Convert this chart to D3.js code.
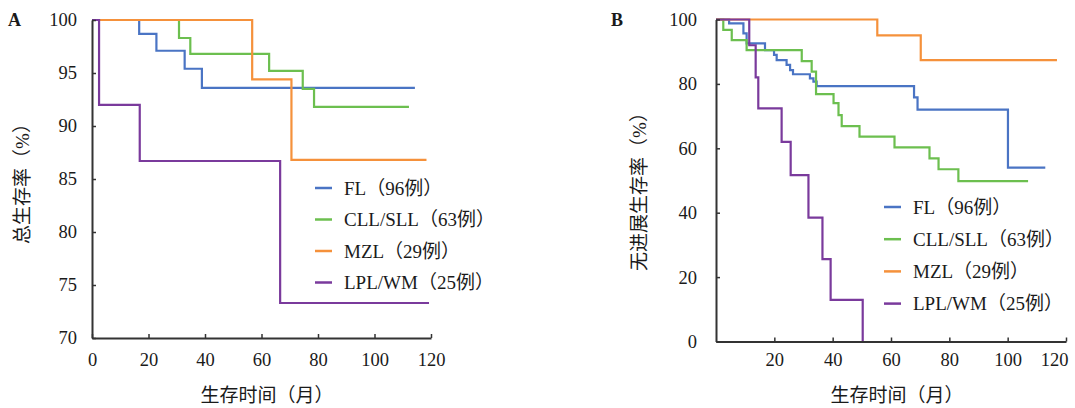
<!DOCTYPE html>
<html>
<head>
<meta charset="utf-8">
<script src="https://cdn.jsdelivr.net/npm/d3@7"></script>
<style>
  body { margin: 0; background: #fff; }
  text { font-family: "Liberation Serif", "Noto Sans CJK SC", serif; fill: #1a1a1a; }
</style>
</head>
<body>
<div id="chart"></div>
<script>
// group names / colours
var groups = ["FL（96例）", "CLL/SLL（63例）", "MZL（29例）", "LPL/WM（25例）"];
var colors = ["#4a74c4", "#6cbf4f", "#f5913b", "#7a3a9c"];

// panel A: overall survival (months, %)
var flA_t = [0, 16.7, 22.8, 32.8, 38.9, 114.3];
var flA_s = [100, 98.7, 97.1, 95.4, 93.6, 93.6];
var cllA_t = [0, 30.8, 34.8, 62.7, 74.6, 78.6, 112.2];
var cllA_s = [100, 98.3, 96.8, 95.2, 93.5, 91.8, 91.8];
var mzlA_t = [0, 56.7, 70.6, 118.4];
var mzlA_s = [100, 94.4, 86.8, 86.8];
var lplA_t = [0, 2.5, 16.9, 66.6, 119.3];
var lplA_s = [100, 92, 86.7, 73.3, 73.3];

// panel B: progression-free survival (months, %)
var flB_t = [0, 4.5, 9.4, 10.5, 16.8, 19.9, 20.8, 24.2, 25.4, 26.4, 32.2, 33.4, 34.5, 67.9, 69.1, 100.1, 112.9];
var flB_s = [100, 98.8, 95.7, 92.6, 90.5, 89, 87.4, 85.9, 84.3, 83, 81.7, 80.7, 79.3, 75.8, 72, 54, 54];
var cllB_t = [0, 2.5, 5.4, 10.5, 29.4, 32.8, 34.3, 40.3, 42, 43.1, 49.2, 61.2, 73.2, 76.3, 83.1, 107];
var cllB_s = [100, 96.8, 93.6, 90.5, 87.1, 83.8, 76.8, 74, 70.3, 66.9, 63.6, 60.3, 56.9, 53.5, 49.8, 49.8];
var mzlB_t = [0, 55.3, 70.2, 116.9];
var mzlB_s = [100, 95.1, 87.4, 87.4];
var lplB_t = [0, 11.4, 13.6, 14.5, 22.5, 25.6, 31.7, 36.5, 39.3, 50.3];
var lplB_s = [100, 92, 82, 72.4, 62, 51.7, 38.5, 25.6, 12.9, 0];

var xTicksA = [0, 20, 40, 60, 80, 100, 120];
var yTicksA = [70, 75, 80, 85, 90, 95, 100];
var xTicksB = [20, 40, 60, 80, 100, 120];
var yTicksB = [0, 20, 40, 60, 80, 100];

function zip(t, s) { return t.map(function(d, i) { return [d, s[i]]; }); }

var width = 1075, height = 408;
var svg = d3.select('#chart').append('svg')
  .attr('width', width)
  .attr('height', height);

function panel(opt) {
  var x = d3.scaleLinear().domain([0, 120]).range(opt.xr);
  var y = d3.scaleLinear().domain(opt.yd).range(opt.yr);
  var g = svg.append('g');

  var line = d3.line()
    .x(function(d) { return x(d[0]); })
    .y(function(d) { return y(d[1]); })
    .curve(d3.curveStepAfter);

  opt.series.forEach(function(s, i) {
    g.append('path')
      .attr('d', line(s))
      .attr('fill', 'none')
      .attr('stroke', colors[i])
      .attr('stroke-width', 2.2);
  });

  var xAxis = g.append('g')
    .attr('transform', 'translate(0,' + opt.yr[0] + ')')
    .call(d3.axisBottom(x).tickValues(opt.xt).tickSizeInner(-4).tickSizeOuter(0).tickPadding(opt.xpad));
  var yAxis = g.append('g')
    .attr('transform', 'translate(' + opt.xr[0] + ',0)')
    .call(d3.axisLeft(y).tickValues(opt.yt).tickSizeInner(-4).tickSizeOuter(0).tickPadding(opt.ypad));
  [xAxis, yAxis].forEach(function(a) {
    a.select('.domain').attr('stroke', '#333').attr('stroke-width', 2);
    a.selectAll('.tick line').attr('stroke', '#333').attr('stroke-width', 1.5);
    a.selectAll('.tick text').style('font-size', '18.5px').attr('fill', '#1a1a1a');
  });
  // last x label is pulled in so it fits at the right edge
  if (opt.lastEnd) {
    xAxis.selectAll('.tick text')
      .filter(function(d) { return d === 120; })
      .attr('text-anchor', 'end')
      .attr('x', 2);
  }

  // legend
  var legend = g.selectAll('.legend')
    .data(groups)
    .enter()
    .append('g')
    .attr('transform', function(d, i) {
      return 'translate(' + opt.lx + ',' + (opt.ly + i * opt.lstep) + ')';
    });
  legend.append('line')
    .attr('x1', 0).attr('x2', 17)
    .attr('stroke', function(d, i) { return colors[i]; })
    .attr('stroke-width', 2.5);
  legend.append('text')
    .attr('x', 29)
    .attr('dy', '0.35em')
    .style('font-size', '19px')
    .text(function(d) { return d; });

  g.append('text')
    .attr('x', opt.letter[0]).attr('y', opt.letter[1])
    .attr('dy', '0.35em')
    .style('font-size', '18px')
    .style('font-weight', 'bold')
    .text(opt.name);

  g.append('text')
    .attr('transform', 'translate(' + opt.ytitle[0] + ',' + opt.ytitle[1] + ') rotate(-90)')
    .attr('text-anchor', 'middle')
    .attr('dy', '0.35em')
    .style('font-size', '19px')
    .text(opt.ylabel);

  g.append('text')
    .attr('x', opt.xtitle[0]).attr('y', opt.xtitle[1])
    .attr('text-anchor', 'middle')
    .attr('dy', '0.35em')
    .style('font-size', '19px')
    .text('生存时间（月）');
}

panel({
  name: 'A',
  xr: [92, 431], yd: [70, 100], yr: [338, 20],
  xt: xTicksA, yt: yTicksA, xpad: 15, ypad: 15,
  series: [zip(flA_t, flA_s), zip(cllA_t, cllA_s), zip(mzlA_t, mzlA_s), zip(lplA_t, lplA_s)],
  lx: 315, ly: 188, lstep: 31.5,
  letter: [8, 20], ytitle: [22, 179], xtitle: [267, 395],
  ylabel: '总生存率（%）'
});

panel({
  name: 'B',
  xr: [716, 1066], yd: [0, 100], yr: [341.5, 19.5],
  xt: xTicksB, yt: yTicksB, xpad: 11, ypad: 19,
  series: [zip(flB_t, flB_s), zip(cllB_t, cllB_s), zip(mzlB_t, mzlB_s), zip(lplB_t, lplB_s)],
  lx: 884, ly: 207, lstep: 32.2, lastEnd: true,
  letter: [611, 20], ytitle: [639, 187], xtitle: [897, 395],
  ylabel: '无进展生存率（%）'
});
</script>
</body>
</html>
